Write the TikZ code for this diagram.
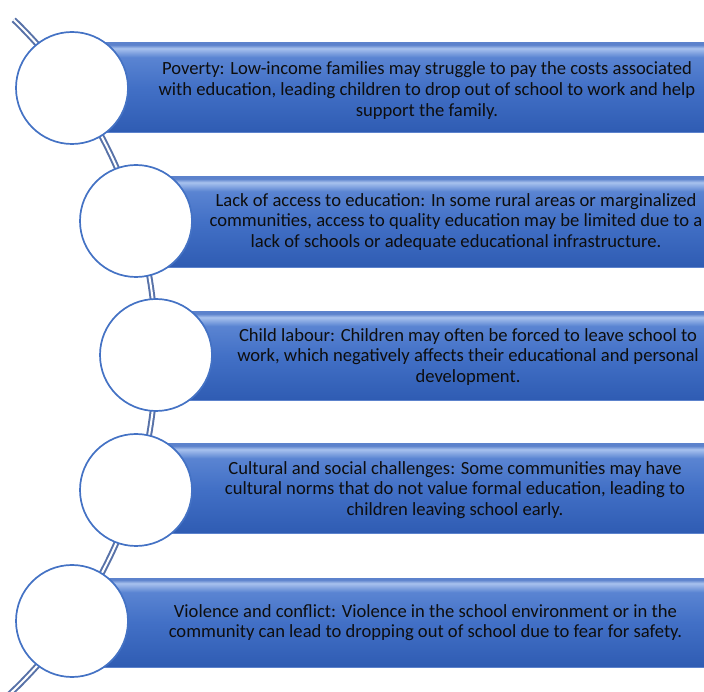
\documentclass[tikz,border=0pt]{standalone}
\usepackage{fontspec}
\setmainfont{Carlito}
\definecolor{bxBot}{HTML}{2F5CB3}
\definecolor{bxMid}{HTML}{4270C6}
\definecolor{bxUp}{HTML}{5A84D2}
\definecolor{bxHi}{HTML}{A8C2EE}
\definecolor{bxTop}{HTML}{5C82CC}
\definecolor{ringBlue}{HTML}{4472C4}
\definecolor{linkBlue}{HTML}{5872A8}
\definecolor{txt}{HTML}{0E0E0E}
\pgfdeclareverticalshading{boxshade}{100bp}{color(0bp)=(bxBot); color(25bp)=(bxBot); color(50bp)=(bxMid); color(67bp)=(bxUp); color(72bp)=(bxHi); color(74bp)=(bxTop); color(75bp)=(bxTop); color(100bp)=(bxTop)}
\begin{document}
\begin{tikzpicture}[x=1pt,y=1pt,
  ring/.style={circle,draw=ringBlue,line width=1.7pt,fill=white,minimum size=112pt,inner sep=0pt},
  band/.style={shading=boxshade,draw=bxTop,line width=0.4pt},
  label/.style={align=center,font=\fontsize{18.6}{20.6}\selectfont,text=txt,inner sep=0pt},
  link/.style={draw=linkBlue,line width=2pt,double=white,double distance=2pt}]
\useasboundingbox (0,0) rectangle (704,691);
% connector arc
\coordinate (arcstart) at ({-310+466*cos(46)},{336+466*sin(46)});
\draw[link] (arcstart) arc[start angle=46,end angle=-49,radius=466];
% bands
\path[band] (72,559) rectangle (740,648);
\path[band] (136,424) rectangle (740,514);
\path[band] (156,291) rectangle (740,379);
\path[band] (136,158) rectangle (740,247);
\path[band] (72,24) rectangle (740,113);
% circles
\node[ring] (c1) at (72,603) {};
\node[ring] (c2) at (136,470) {};
\node[ring] (c3) at (156,336) {};
\node[ring] (c4) at (136,201) {};
\node[ring] (c5) at (72,70) {};
% texts
\node[label] (t1) at (427,600.5) {Poverty: Low-income families may struggle to pay the costs associated\\with education, leading children to drop out of school to work and help\\support the family.};
\node[label] (t2) at (456,469) {Lack of access to education: In some rural areas or marginalized\\communities, access to quality education may be limited due to a\\lack of schools or adequate educational infrastructure.};
\node[label] (t3) at (468,334) {Child labour: Children may often be forced to leave school to\\work, which negatively affects their educational and personal\\development.};
\node[label] (t4) at (455,201) {Cultural and social challenges: Some communities may have\\cultural norms that do not value formal education, leading to\\children leaving school early.};
\node[label] (t5) at (425.5,68.5) {Violence and conflict: Violence in the school environment or in the\\community can lead to dropping out of school due to fear for safety.};
\end{tikzpicture}
\end{document}
